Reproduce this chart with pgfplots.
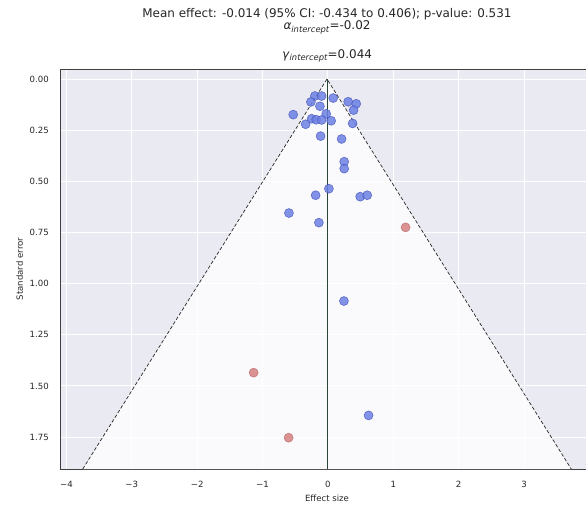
\documentclass[border=0pt]{standalone}
\usepackage{fontspec}
\setmainfont{DejaVu Sans}
\usepackage{pgfplots}
\pgfplotsset{compat=1.18}

\definecolor{bgc}{HTML}{EAEAF2}
\definecolor{ptblue}{RGB}{108,128,228}
\definecolor{edblue}{RGB}{62,78,182}
\definecolor{ptred}{RGB}{214,128,128}
\definecolor{edred}{RGB}{178,96,96}
\definecolor{txt}{HTML}{262626}
\definecolor{meanline}{HTML}{2A4536}

\begin{document}
\begin{tikzpicture}
\begin{axis}[
    scale only axis,
    width=534bp, height=400bp,
    xmin=-4.098, xmax=4.07,
    ymin=-0.049, ymax=1.906,
    y dir=reverse,
    axis background/.style={fill=bgc},
    axis line style={draw=black!75, line width=0.8pt},
    xtick={-4,-3,-2,-1,0,1,2,3},
    xticklabels={−4,−3,−2,−1,0,1,2,3},
    ytick={0,0.25,0.5,0.75,1,1.25,1.5,1.75},
    yticklabels={0.00,0.25,0.50,0.75,1.00,1.25,1.50,1.75},
    major tick length=0pt,
    grid=major,
    major grid style={white, line width=0.9pt},
    tick label style={font=\fontsize{8.6}{10}\selectfont, text=txt, inner sep=0pt},
    xticklabel style={anchor=base, yshift=-18.7bp},
    yticklabel style={anchor=east, xshift=-11bp},
]
% funnel region
\addplot[draw=none, fill=white, fill opacity=0.8] coordinates {(-3.750,1.906) (-0.014,0) (3.722,1.906)};
\addplot[black!85, line width=0.7pt, dash pattern=on 3.5bp off 2bp] coordinates {(-3.750,1.906) (-0.014,0) (3.722,1.906)};
% mean effect
\addplot[meanline, line width=1pt] coordinates {(-0.014,0) (-0.014,1.906)};

% studies
\addplot[only marks, mark=*, mark size=4.5bp,
    mark options={fill=ptblue, fill opacity=0.85, draw=edblue, draw opacity=0.7, line width=0.6bp}]
coordinates {
    (-0.199,0.083) (-0.096,0.083) (-0.260,0.112) (0.081,0.093)
    (0.310,0.111) (0.433,0.121) (0.393,0.152) (-0.122,0.133)
    (-0.531,0.174) (-0.026,0.170) (-0.249,0.194) (-0.179,0.199)
    (-0.096,0.200) (0.050,0.204) (-0.341,0.221) (0.378,0.217)
    (-0.112,0.279) (0.209,0.293) (0.249,0.404) (0.249,0.438)
    (0.015,0.536) (-0.188,0.568) (0.494,0.575) (0.601,0.568)
    (-0.596,0.655) (-0.138,0.702) (0.245,1.085) (0.622,1.644)
};
\addplot[only marks, mark=*, mark size=4.5bp,
    mark options={fill=ptred, fill opacity=0.85, draw=edred, draw opacity=0.7, line width=0.6bp}]
coordinates {
    (1.188,0.725) (-1.136,1.435) (-0.601,1.753)
};

\coordinate (tc) at (axis description cs:0.5,1);
\coordinate (bc) at (axis description cs:0.5,0);
\coordinate (ll) at (axis description cs:0,0);
\coordinate (ul) at (axis description cs:0,1);
\coordinate (lm) at (axis description cs:0,0.5);
\end{axis}

\begin{scope}[font=\fontsize{12}{14}\selectfont, text=txt]
\node[anchor=base] at ([yshift=51.7bp]tc) {Mean effect: -0.014 (95\% CI: -0.434 to 0.406); p-value: 0.531};
\node[anchor=base] at ([yshift=39bp]tc) {\textit{α}{\fontsize{8.4}{9}\selectfont\raisebox{-2.2bp}{\textit{intercept}}}=-0.02};
\node[anchor=base] at ([yshift=10.7bp]tc) {\textit{γ}{\fontsize{8.4}{9}\selectfont\raisebox{-2.2bp}{\textit{intercept}}}=0.044};
\end{scope}
\node[anchor=base, font=\fontsize{8.6}{10}\selectfont, text=txt] at ([yshift=-32bp]bc) {Effect size};
\node[anchor=base, rotate=90, font=\fontsize{8.6}{10}\selectfont, text=txt] at ([xshift=-37bp]lm) {Standard error};

\pgfresetboundingbox
\path[use as bounding box] ([shift={(-60bp,-36bp)}]ll) rectangle ([shift={(526bp,69bp)}]ul);
\end{tikzpicture}
\end{document}
